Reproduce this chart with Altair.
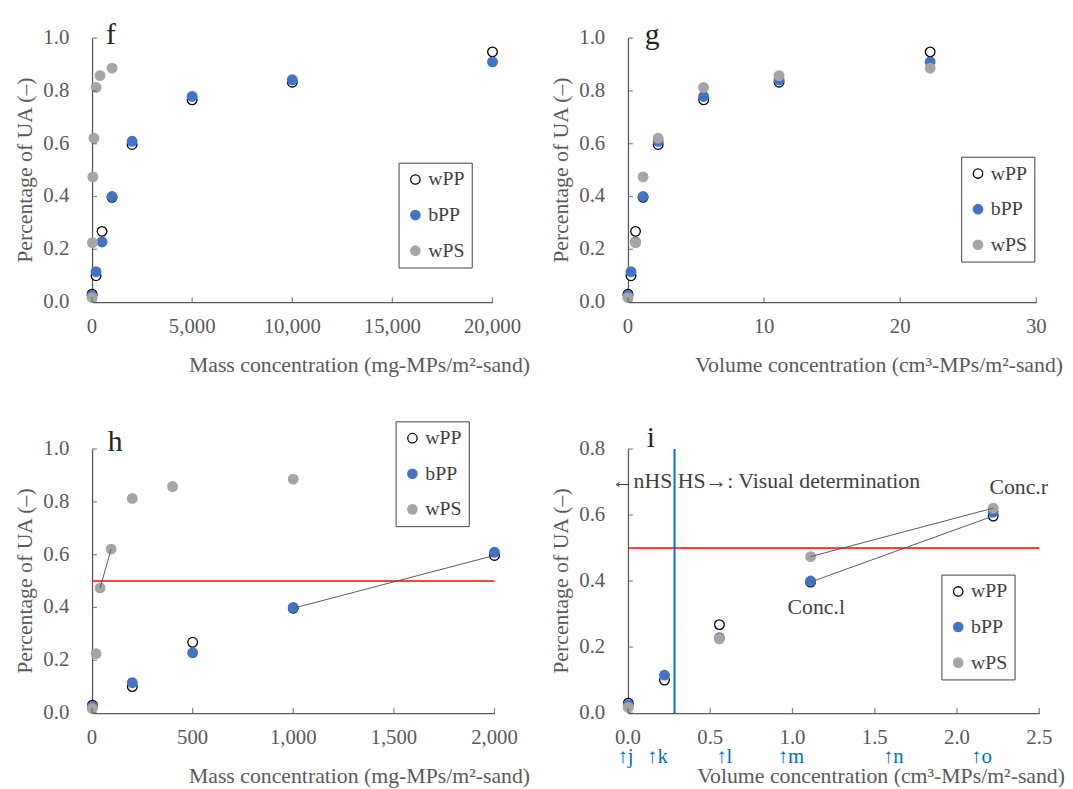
import altair as alt
import pandas as pd

# ------------------------------------------------------------------
# Values
# ------------------------------------------------------------------
series_names = ["wPP", "bPP", "wPS"]
series_fill = ["#FFFFFF", "#4472C4", "#A5A5A5"]
series_stroke = ["#000000", "#4472C4", "#A5A5A5"]

# PP (white and black) – mass (mg-MPs/m2-sand) and volume (cm3-MPs/m2-sand)
pp_mass = [2, 200, 500, 1000, 2000, 5000, 10000, 20000]
pp_volume = [0.0022, 0.222, 0.556, 1.11, 2.22, 5.56, 11.1, 22.2]
wpp_ua = [0.030, 0.100, 0.268, 0.397, 0.597, 0.766, 0.833, 0.948]
bpp_ua = [0.025, 0.115, 0.228, 0.400, 0.609, 0.779, 0.842, 0.910]

# PS (white)
wps_mass = [1, 20, 40, 95, 200, 400, 1000]
wps_volume = [0.002, 0.555, 1.11, 2.22, 5.55, 11.1, 22.2]
wps_ua = [0.017, 0.225, 0.474, 0.621, 0.813, 0.858, 0.886]

# segments (series, from index, to index) drawn in panels h and i
connect_pairs = [("wPS", 2, 3), ("wPP", 3, 4)]

threshold = 0.5          # red line
hs_boundary = 0.283      # blue vertical line in panel i

# axis ticks
f_xticks = [0, 5000, 10000, 15000, 20000]
g_xticks = [0, 10, 20, 30]
h_xticks = [0, 500, 1000, 1500, 2000]
i_xticks = [0.0, 0.5, 1.0, 1.5, 2.0, 2.5]
ua_ticks = [0.0, 0.2, 0.4, 0.6, 0.8, 1.0]
i_yticks = [0.0, 0.2, 0.4, 0.6, 0.8]

# annotations of panel i
i_note_text = ["\u2190nHS HS\u2192: Visual determination", "Conc.r", "Conc.l"]
i_note_x = [-0.098, 2.197, 0.970]
i_note_y = [0.704, 0.686, 0.320]
arrow_text = ["\u2191j", "\u2191k", "\u2191l", "\u2191m", "\u2191n", "\u2191o"]
arrow_x = [-0.064, 0.116, 0.536, 0.910, 1.550, 2.085]
arrow_y = -0.132

mass_title = "Mass concentration (mg-MPs/m\u00b2-sand)"
vol_title = "Volume concentration (cm\u00b3-MPs/m\u00b2-sand)"
y_title = "Percentage of UA (\u2013)"

# ------------------------------------------------------------------
# Tables
# ------------------------------------------------------------------
lookup = {
    "wPP": (pp_mass, pp_volume, wpp_ua),
    "bPP": (pp_mass, pp_volume, bpp_ua),
    "wPS": (wps_mass, wps_volume, wps_ua),
}
rows = []
for name in series_names:
    m, v, u = lookup[name]
    for k in range(len(u)):
        rows.append({"series": name, "mass": m[k], "volume": v[k], "ua": u[k]})
points_df = pd.DataFrame(rows)

seg_rows = []
for name, a, b in connect_pairs:
    m, v, u = lookup[name]
    seg_rows.append({"mass": m[a], "mass2": m[b], "volume": v[a], "volume2": v[b],
                     "ua": u[a], "ua2": u[b]})
seg_df = pd.DataFrame(seg_rows)

notes_df = pd.DataFrame({"text": i_note_text, "x": i_note_x, "y": i_note_y})
arrows_df = pd.DataFrame({"text": arrow_text, "x": arrow_x, "y": [arrow_y] * len(arrow_x)})

# ------------------------------------------------------------------
# Styling
# ------------------------------------------------------------------
FONT = "Liberation Serif"
AXC = "#595959"
LBL = "#595959"
DARK = "#404040"
BLUE = "#0070C0"


def panel(xfield, xmax, xticks, xfmt, ymax, yticks, width, height, xtitle,
          title_x, letter, letter_dx, letter_dy, legend_x, legend_y,
          with_threshold=False, with_segments=False, panel_i=False):
    xscale = alt.Scale(domain=[0, xmax], nice=False, zero=True)
    yscale = alt.Scale(domain=[0, ymax], nice=False, zero=True)
    # axis lines only; labels and titles are drawn as text marks below
    xaxis = alt.Axis(values=xticks, labels=False, ticks=False, grid=False, title=None,
                     domainColor=AXC, domainWidth=1.3)
    yaxis = alt.Axis(values=yticks, labels=False, ticks=False, grid=False, title=None,
                     domainColor=AXC, domainWidth=1.3)
    legend = alt.Legend(title=None, orient="none", legendX=legend_x, legendY=legend_y,
                        direction="vertical", strokeColor=DARK, fillColor="white",
                        padding=7, labelFont=FONT, labelFontSize=20, labelColor=DARK,
                        labelOffset=3, symbolType="circle", symbolSize=90,
                        symbolStrokeWidth=1.3, rowPadding=16)

    def X(field):
        return alt.X(field, scale=xscale, axis=xaxis)

    def Y(field):
        return alt.Y(field, scale=yscale, axis=yaxis)

    pts = alt.Chart(points_df).transform_filter(
        alt.datum[xfield] <= xmax
    ).mark_point(size=95, opacity=1, strokeWidth=1.3).encode(
        x=X(f"{xfield}:Q"),
        y=Y("ua:Q"),
        fill=alt.Fill("series:N", scale=alt.Scale(domain=series_names, range=series_fill),
                      legend=legend),
        stroke=alt.Stroke("series:N", scale=alt.Scale(domain=series_names, range=series_stroke),
                          legend=legend),
    )

    xtick_df = pd.DataFrame({"t": xticks, "z": [0] * len(xticks)})
    ytick_df = pd.DataFrame({"t": yticks, "z": [0] * len(yticks)})

    xt = alt.Chart(xtick_df).mark_tick(
        orient="vertical", size=5, thickness=1.3, color=AXC, yOffset=-2.5
    ).encode(x=X("t:Q"), y=Y("z:Q"))
    yt = alt.Chart(ytick_df).mark_tick(
        orient="horizontal", size=5, thickness=1.3, color=AXC, xOffset=2.5
    ).encode(y=Y("t:Q"), x=X("z:Q"))

    xlab = alt.Chart(xtick_df).mark_text(
        align="center", baseline="middle", dy=25, font=FONT, fontSize=21, color=LBL
    ).encode(x=X("t:Q"), y=Y("z:Q"), text=alt.Text("t:Q", format=xfmt))
    ylab = alt.Chart(ytick_df).mark_text(
        align="right", baseline="middle", dx=-23, font=FONT, fontSize=21, color=LBL
    ).encode(y=Y("t:Q"), x=X("z:Q"), text=alt.Text("t:Q", format=".1f"))

    xtitle_layer = alt.Chart(pd.DataFrame({"label": [xtitle], "x": [xmax], "y": [0]})).mark_text(
        align="right", baseline="alphabetic", dx=title_x - width, dy=71,
        font=FONT, fontSize=22, color=LBL
    ).encode(x=X("x:Q"), y=Y("y:Q"), text="label:N")
    ytitle_layer = alt.Chart(pd.DataFrame({"label": [y_title], "x": [0], "y": [ymax / 2]})).mark_text(
        align="center", baseline="middle", angle=270, dy=-68,
        font=FONT, fontSize=22, color=LBL
    ).encode(x=X("x:Q"), y=Y("y:Q"), text="label:N")

    letter_layer = alt.Chart(pd.DataFrame({"label": [letter], "x": [0], "y": [ymax]})).mark_text(
        align="left", baseline="alphabetic", font=FONT, fontSize=30, color="#262626",
        dx=letter_dx, dy=letter_dy
    ).encode(x=X("x:Q"), y=Y("y:Q"), text="label:N")

    layers = [pts]
    if with_threshold:
        layers.append(alt.Chart(pd.DataFrame({"y": [threshold]})).mark_rule(
            color="#FF0000", strokeWidth=1.5).encode(y=Y("y:Q")))
    if panel_i:
        layers.append(alt.Chart(pd.DataFrame({"x": [hs_boundary]})).mark_rule(
            color=BLUE, strokeWidth=2).encode(x=X("x:Q")))
    if with_segments:
        layers.append(alt.Chart(seg_df).mark_rule(color=AXC, strokeWidth=1).encode(
            x=X(f"{xfield}:Q"), x2=f"{xfield}2:Q",
            y=Y("ua:Q"), y2="ua2:Q"))
    if panel_i:
        layers.append(alt.Chart(notes_df).mark_text(
            align="left", baseline="middle", font=FONT, fontSize=22, color=DARK
        ).encode(x=X("x:Q"), y=Y("y:Q"), text="text:N"))
        layers.append(alt.Chart(arrows_df).mark_text(
            align="left", baseline="middle", font=FONT, fontSize=21, color=BLUE
        ).encode(x=X("x:Q"), y=Y("y:Q"), text="text:N"))
    layers += [xt, yt, xlab, ylab, xtitle_layer, ytitle_layer, letter_layer]
    return alt.layer(*layers).properties(width=width, height=height)


f = panel("mass", 20000, f_xticks, ",.0f", 1.0, ua_ticks, 405, 267, mass_title, 443,
          "f", 14, 6, 310, 126)
g = panel("volume", 30, g_xticks, ".0f", 1.0, ua_ticks, 413, 267, vol_title, 440,
          "g", 17, 6, 337, 120)
h = panel("mass", 2000, h_xticks, ",.0f", 1.0, ua_ticks, 407, 267, mass_title, 443,
          "h", 16, 2, 307, -28, with_threshold=True, with_segments=True)
i = panel("volume", 2.5, i_xticks, ".1f", 0.8, i_yticks, 416, 267, vol_title, 442,
          "i", 19, -2, 317, 127, with_threshold=True, with_segments=True, panel_i=True)

chart = alt.concat(
    f, g, h, i, columns=2, bounds="flush",
    spacing=alt.RowColnumber(row=148.6, column=135)
).resolve_scale(
    fill="independent", stroke="independent"
).resolve_legend(
    fill="independent", stroke="independent"
).properties(
    padding={"left": 5, "top": 8, "right": 0, "bottom": 0},
    background="white"
).configure_view(strokeWidth=0)

chart.save("out.html", embed_options={"renderer": "svg", "actions": False})
